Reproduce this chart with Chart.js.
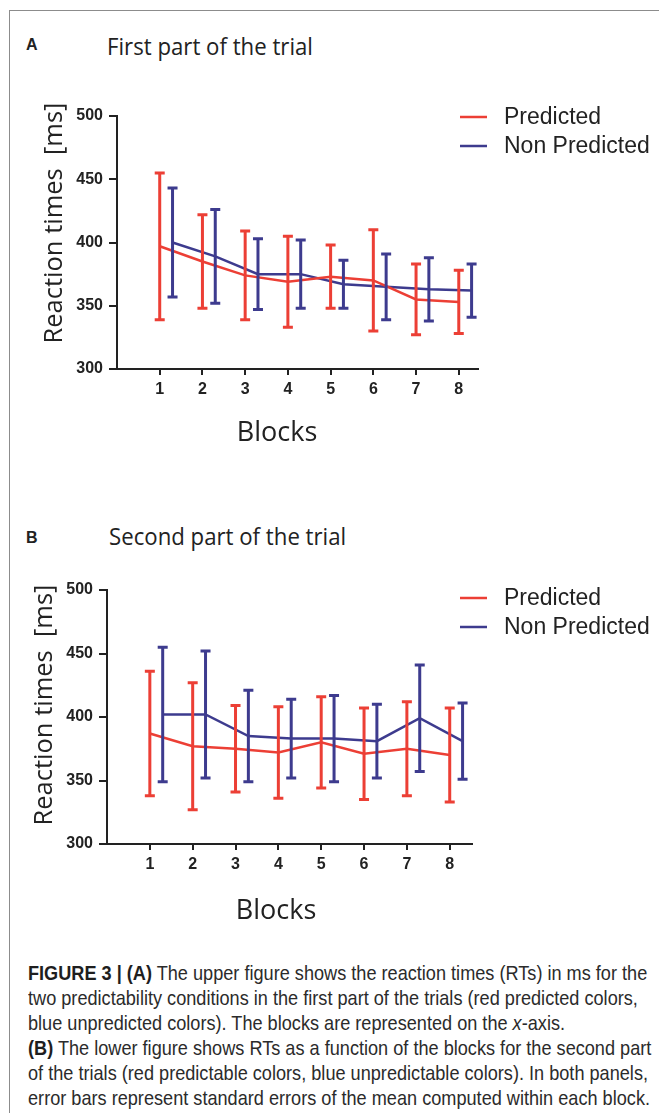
<!DOCTYPE html>
<html>
<head>
<meta charset="utf-8">
<script src="https://cdn.jsdelivr.net/npm/chart.js@4.4.0/dist/chart.umd.min.js"></script>
<style>
  html, body { margin: 0; padding: 0; background: #fff; }
  body { position: relative; width: 659px; height: 1113px; overflow: hidden; }
  .frame { position: absolute; left: 9px; top: 10px; width: 700px; height: 1200px;
           border-left: 1.5px solid #8c8c8c; border-top: 1.5px solid #8c8c8c; }
  .tag { position: absolute; font: bold 16px 'Liberation Sans', Arial, sans-serif; color: #222; }
  .ptitle { position: absolute; font: 24px 'Open Sans', sans-serif; color: #222; white-space: nowrap;
            transform: scaleX(0.925); transform-origin: left top; }
  .chartbox { position: absolute; left: 0; width: 659px; height: 400px; }
  .caption { position: absolute; left: 28px; top: 960px; color: #2b2b2b; white-space: nowrap;
             font: 21px 'Liberation Sans', Arial, sans-serif; line-height: 25px;
             transform-origin: left top; }
  .caption div { display: block; }
  .caption span.l { display: inline-block; }
  .caption b { color: #1e1e1e; }
</style>
</head>
<body>
<div class="frame"></div>

<div class="tag" style="left:26px; top:36px;">A</div>
<div class="ptitle" style="left:107px; top:29px;">First part of the trial</div>
<div class="chartbox" style="top:60px;"><canvas id="chartA"></canvas></div>

<div class="tag" style="left:26px; top:529px;">B</div>
<div class="ptitle" style="left:109px; top:519px;">Second part of the trial</div>
<div class="chartbox" style="top:540px;"><canvas id="chartB"></canvas></div>

<div class="caption" id="caption">
  <div><span class="l"><b>FIGURE 3 | (A)</b> The upper figure shows the reaction times (RTs) in ms for the</span></div>
  <div><span class="l">two predictability conditions in the first part of the trials (red predicted colors,</span></div>
  <div><span class="l">blue unpredicted colors). The blocks are represented on the <i>x</i>-axis.</span></div>
  <div><span class="l"><b>(B)</b> The lower figure shows RTs as a function of the blocks for the second part</span></div>
  <div><span class="l">of the trials (red predictable colors, blue unpredictable colors). In both panels,</span></div>
  <div><span class="l" id="lastLine">error bars represent standard errors of the mean computed within each block.</span></div>
</div>

<script>
// Datos (ms)
const blocks = [1, 2, 3, 4, 5, 6, 7, 8];
const yTicks = [300, 350, 400, 450, 500];

// Panel A - primera parte del ensayo
const aPredMean = [397, 385, 374, 369, 373, 370, 355, 353];
const aPredErr  = [58, 37, 35, 36, 25, 40, 28, 25];
const aNonMean  = [400, 389, 375, 375, 367, 365, 363, 362];
const aNonErr   = [43, 37, 28, 27, 19, 26, 25, 21];

// Panel B - segunda parte del ensayo
const bPredMean = [387, 377, 375, 372, 380, 371, 375, 370];
const bPredErr  = [49, 50, 34, 36, 36, 36, 37, 37];
const bNonMean  = [402, 402, 385, 383, 383, 381, 399, 381];
const bNonErr   = [53, 50, 36, 31, 34, 29, 42, 30];

const RED = '#ec3f35';
const BLUE = '#3d3b8e';
const INK = '#222';
const NON_SHIFT = 0.3;   // blue series drawn a bit to the right of each block

// caption set in a condensed look: squeeze to the original line width
const lastLine = document.getElementById('lastLine');
const squeeze = 622 / lastLine.getBoundingClientRect().width;
document.getElementById('caption').style.transform = 'scaleX(' + squeeze + ')';

// error bars with caps, through the chart scales
const errorBars = {
    id: 'errorBars',
    afterDatasetsDraw(chart) {
        const { ctx, scales: { x, y } } = chart;
        chart.data.datasets.forEach(ds => {
            ctx.save();
            ctx.strokeStyle = ds.borderColor;
            ctx.lineWidth = 3;
            ds.data.forEach((p, j) => {
                const px = x.getPixelForValue(p.x);
                const top = y.getPixelForValue(p.y + ds.errors[j]);
                const bot = y.getPixelForValue(p.y - ds.errors[j]);
                ctx.beginPath();
                ctx.moveTo(px, top); ctx.lineTo(px, bot);
                ctx.moveTo(px - 5, top); ctx.lineTo(px + 5, top);
                ctx.moveTo(px - 5, bot); ctx.lineTo(px + 5, bot);
                ctx.stroke();
            });
            ctx.restore();
        });
    }
};

// legend at the right, line + label
const sideLegend = {
    id: 'sideLegend',
    afterDraw(chart, args, opts) {
        const ctx = chart.ctx;
        ctx.save();
        ctx.font = '23px "Liberation Sans", Arial, sans-serif';
        ctx.textBaseline = 'middle';
        ctx.textAlign = 'left';
        chart.data.datasets.forEach((ds, i) => {
            const y = opts.y + i * opts.gap;
            ctx.strokeStyle = ds.borderColor;
            ctx.lineWidth = 2.5;
            ctx.beginPath();
            ctx.moveTo(opts.x, y);
            ctx.lineTo(opts.x + 27, y);
            ctx.stroke();
            ctx.fillStyle = INK;
            ctx.fillText(ds.label, opts.x + 44, y + 1);
        });
        ctx.restore();
    }
};

// axis titles placed freely (the original is not centred on the axes)
const axisTitles = {
    id: 'axisTitles',
    afterDraw(chart, args, opts) {
        const ctx = chart.ctx;
        ctx.save();
        ctx.fillStyle = INK;
        ctx.textAlign = 'center';
        ctx.textBaseline = 'middle';
        ctx.font = opts.xFont;
        ctx.fillText(opts.xText, opts.xAt[0], opts.xAt[1]);
        ctx.font = opts.yFont;
        ctx.translate(opts.yAt[0], opts.yAt[1]);
        ctx.rotate(-Math.PI / 2);
        ctx.fillText(opts.yText, 0, 0);
        ctx.restore();
    }
};

function buildPanel(id, predMean, predErr, nonMean, nonErr, box) {
    const ctx = document.getElementById(id);
    const W = 659, H = 400, X_H = 40;
    const tickFont = { family: '"Liberation Sans", Arial, sans-serif', size: 16, weight: 'bold' };

    new Chart(ctx, {
        type: 'line',
        data: {
            datasets: [{
                label: 'Predicted',
                data: blocks.map((b, i) => ({ x: b, y: predMean[i] })),
                errors: predErr,
                borderColor: RED,
                borderWidth: 2.5,
                pointRadius: 0,
                tension: 0
            }, {
                label: 'Non Predicted',
                data: blocks.map((b, i) => ({ x: b + NON_SHIFT, y: nonMean[i] })),
                errors: nonErr,
                borderColor: BLUE,
                borderWidth: 2.5,
                pointRadius: 0,
                tension: 0
            }]
        },
        options: {
            responsive: true,
            maintainAspectRatio: false,
            animation: false,
            layout: {
                padding: { left: 0, top: box.top, right: W - box.right, bottom: H - box.bottom - X_H }
            },
            plugins: {
                legend: { display: false },
                tooltip: { enabled: false },
                sideLegend: { x: box.legX, y: box.legY, gap: 29 },
                axisTitles: {
                    xText: 'Blocks', xFont: '27px "Open Sans", sans-serif', xAt: box.xTitle,
                    yText: 'Reaction times  [ms]', yFont: '25.5px "Open Sans", sans-serif', yAt: box.yTitle
                }
            },
            scales: {
                x: {
                    type: 'linear',
                    min: 0,
                    max: box.xMax,
                    afterBuildTicks: s => { s.ticks = blocks.map(v => ({ value: v })); },
                    afterFit: s => { s.height = X_H; },
                    grid: { drawOnChartArea: false, drawTicks: true, tickLength: 6, color: INK, lineWidth: 2 },
                    border: { color: INK, width: 2 },
                    ticks: { color: INK, padding: 5, font: tickFont }
                },
                y: {
                    min: 300,
                    max: 500,
                    afterBuildTicks: s => { s.ticks = yTicks.map(v => ({ value: v })); },
                    afterFit: s => { s.width = box.left; },
                    grid: { drawOnChartArea: false, drawTicks: true, tickLength: 8, color: INK, lineWidth: 2 },
                    border: { color: INK, width: 2 },
                    ticks: { color: INK, padding: 6, font: tickFont }
                }
            }
        },
        plugins: [errorBars, sideLegend, axisTitles]
    });
}

buildPanel('chartA', aPredMean, aPredErr, aNonMean, aNonErr, {
    left: 117, top: 56, right: 478, bottom: 309, xMax: 8.45,
    legX: 460, legY: 57, xTitle: [277, 373], yTitle: [55, 163]
});
buildPanel('chartB', bPredMean, bPredErr, bNonMean, bNonErr, {
    left: 107, top: 50, right: 472, bottom: 304, xMax: 8.52,
    legX: 460, legY: 58, xTitle: [276, 371], yTitle: [45, 165]
});
</script>
</body>
</html>
